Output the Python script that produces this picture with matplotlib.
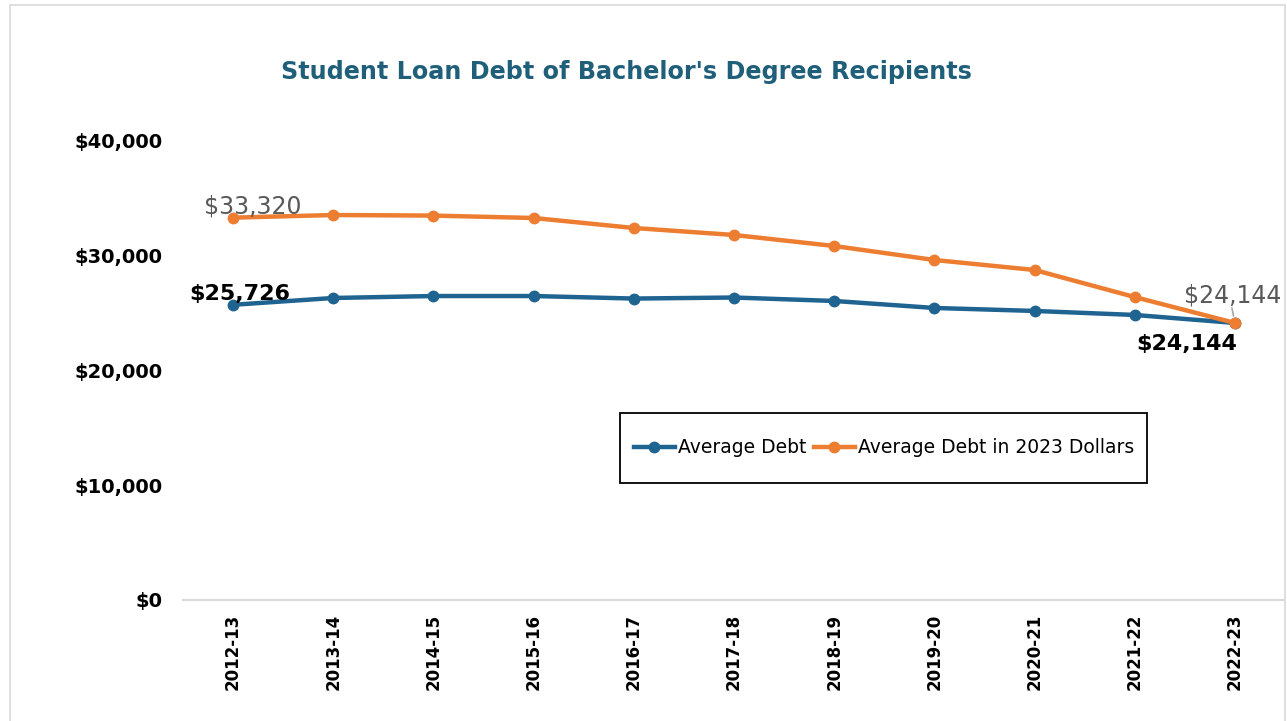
import numpy as np
import matplotlib.pyplot as plt
from matplotlib.patches import Rectangle
from matplotlib.ticker import FuncFormatter

years = ['2012-13', '2013-14', '2014-15', '2015-16', '2016-17', '2017-18',
         '2018-19', '2019-20', '2020-21', '2021-22', '2022-23']
avg_debt = [25726, 26320, 26490, 26490, 26270, 26360, 26060, 25450, 25190, 24840, 24144]
avg_debt_2023 = [33320, 33550, 33500, 33290, 32420, 31810, 30850, 29630, 28760, 26400, 24144]

blue = '#1F6391'
orange = '#ED7D31'
title_col = '#1F5F7A'

plt.rcParams['font.family'] = ['DejaVu Sans']

W, H = 1287, 721
fig = plt.figure(figsize=(W/100, H/100), dpi=100)
ax = fig.add_axes([183/W, 1-600/H, 1102/W, 459/H])

x = np.arange(len(years))
ax.plot(x, avg_debt, color=blue, lw=3.2, marker='o', ms=7.5, label='Average Debt')
ax.plot(x, avg_debt_2023, color=orange, lw=3.2, marker='o', ms=7.5,
        label='Average Debt in 2023 Dollars')

ax.set_xlim(-0.5, len(years) - 0.5)
ax.set_ylim(0, 40000)
ax.set_yticks([0, 10000, 20000, 30000, 40000])
ax.yaxis.set_major_formatter(FuncFormatter(lambda v, p: '${:,.0f}'.format(v)))
ax.set_xticks(x)
ax.set_xticklabels(years, rotation=90, fontsize=12, fontweight='bold')
for lab in ax.get_yticklabels():
    lab.set_fontsize(14)
    lab.set_fontweight('bold')
ax.tick_params(axis='both', length=0)
ax.tick_params(axis='y', pad=15)
ax.tick_params(axis='x', pad=10)

for s in ['top', 'right', 'left']:
    ax.spines[s].set_visible(False)
ax.spines['bottom'].set_color('#D9D9D9')
ax.spines['bottom'].set_linewidth(1.5)

# data labels (offsets in pixels)
ax.annotate('${:,}'.format(avg_debt_2023[0]), (x[0], avg_debt_2023[0]),
            xytext=(-29, 4), textcoords='offset pixels', fontsize=17,
            color='#595959', va='baseline', ha='left')
ax.annotate('${:,}'.format(avg_debt[0]), (x[0], avg_debt[0]),
            xytext=(-44, 5), textcoords='offset pixels', fontsize=16,
            color='black', va='baseline', ha='left', fontweight='bold')
ax.annotate('${:,}'.format(avg_debt_2023[-1]), (x[-1], avg_debt_2023[-1]),
            xytext=(-51, 20), textcoords='offset pixels', fontsize=17,
            color='#595959', va='baseline', ha='left')
ax.annotate('', (x[-1], avg_debt_2023[-1]), xytext=(-3, 15),
            textcoords='offset pixels',
            arrowprops=dict(arrowstyle='-', color='#A6A6A6', lw=1.2,
                            shrinkA=0, shrinkB=5))
ax.annotate('${:,}'.format(avg_debt[-1]), (x[-1], avg_debt[-1]),
            xytext=(2, -27), textcoords='offset pixels', fontsize=16,
            color='black', va='baseline', ha='right', fontweight='bold')

leg = ax.legend(loc='center', bbox_to_anchor=((884-183)/1102, (600-448)/459),
                ncol=2, fontsize=13.5, frameon=False,
                handlelength=2.2, handletextpad=0.15, columnspacing=0.4)
fig.patches.append(Rectangle((620/W, 1-483/H), 527/W, 70/H,
                             transform=fig.transFigure, fill=False,
                             edgecolor='black', lw=1.3))

fig.text(626/W, 1-72/H, "Student Loan Debt of Bachelor's Degree Recipients",
         ha='center', va='center', fontsize=17.2, fontweight='bold', color=title_col)

fig.patches.append(Rectangle((10/W, -0.01), 1275/W, 1.01 - 5/H,
                             transform=fig.transFigure, fill=False,
                             edgecolor='#D9D9D9', lw=1.2))

fig.savefig('out.png', dpi=100)
